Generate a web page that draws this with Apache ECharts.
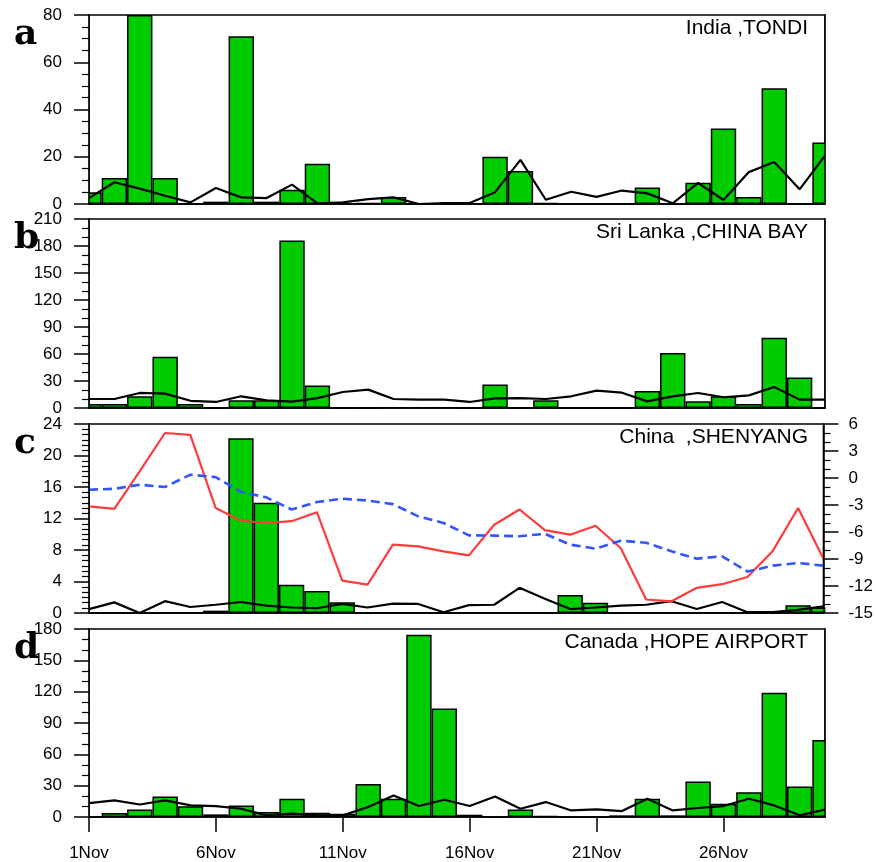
<!DOCTYPE html>
<html>
<head>
<meta charset="utf-8">
<script src="https://cdn.jsdelivr.net/npm/echarts@6/dist/echarts.min.js"></script>
<style>
  html, body { margin: 0; padding: 0; background: #fff; }
  #chart { width: 876px; height: 862px; }
</style>
</head>
<body>
<div id="chart"></div>
<script>
const DAYS = ["1Nov", "2Nov", "3Nov", "4Nov", "5Nov", "6Nov", "7Nov", "8Nov", "9Nov", "10Nov",
  "11Nov", "12Nov", "13Nov", "14Nov", "15Nov", "16Nov", "17Nov", "18Nov", "19Nov", "20Nov",
  "21Nov", "22Nov", "23Nov", "24Nov", "25Nov", "26Nov", "27Nov", "28Nov", "29Nov", "30Nov"];

const PANEL_TITLES = ["India ,TONDI", "Sri Lanka ,CHINA BAY", "China  ,SHENYANG", "Canada ,HOPE AIRPORT"];
const PANEL_LETTERS = ["a", "b", "c", "d"];

const aBars = [5, 11, 80, 11, 0, 1, 71, 1, 6, 17, 0.3, 0.5, 3, 0, 0.3, 0.3, 20, 14, 0.5, 0, 0, 0, 7, 0, 9, 32, 3, 49, 0, 26];
const aLine = [2.5, 9.2, 6.5, 3.5, 0.7, 6.8, 2.8, 2.5, 8.2, 0.3, 0.7, 2.1, 2.8, 0, 0.4, 0.4, 5, 18.7, 1.8, 5.2, 3, 5.7, 4.5, 0.3, 8.9, 1.7, 13.5, 17.8, 6.2, 20.5];

const bBars = [4.4, 4.4, 13, 57, 4.4, 0, 8.5, 8.5, 186, 25, 0, 0, 0.5, 0.5, 0.5, 0, 26, 0, 8.5, 0, 0, 0, 19, 61, 7.4, 13, 4.4, 78, 34, 0];
const bLine = [10, 10, 16.7, 16, 8, 6.7, 13, 8.5, 7, 11, 17.8, 20.4, 10, 9.3, 9.3, 6.7, 10.7, 11, 10, 13, 19.3, 17, 7.4, 13, 16.7, 11.9, 14, 23.3, 9.3, 9.3];

const cBars = [0, 0, 0, 0, 0, 0.3, 22.2, 14, 3.6, 2.8, 1.35, 0, 0, 0, 0, 0, 0, 0, 0, 2.3, 1.3, 0, 0, 0, 0, 0, 0, 0, 1.0, 0.7];
const cLine = [0.5, 1.35, 0, 1.5, 0.76, 1.05, 1.4, 0.93, 0.7, 0.6, 1.15, 0.7, 1.2, 1.15, 0.1, 1.0, 1.05, 3.2, 1.8, 0.5, 0.7, 0.93, 1.05, 1.5, 0.5, 1.4, 0.1, 0.1, 0.4, 0.85];
const cRed = [-3.15, -3.44, 0.74, 5.0, 4.8, -3.33, -4.74, -5.0, -4.8, -3.8, -11.4, -11.85, -7.4, -7.6, -8.15, -8.6, -5.2, -3.5, -5.8, -6.3, -5.3, -7.8, -13.5, -13.7, -12.2, -11.8, -11.0, -8.1, -3.33, -8.96];
const cBlue = [-1.3, -1.2, -0.74, -1.0, 0.37, 0.1, -1.55, -2.15, -3.5, -2.67, -2.3, -2.5, -2.9, -4.26, -5.0, -6.37, -6.4, -6.48, -6.2, -7.4, -7.85, -6.96, -7.2, -8.15, -8.96, -8.7, -10.4, -9.74, -9.44, -9.74];

const dBars = [0, 3.8, 7.3, 19.7, 10.2, 2.5, 11.1, 4.8, 17.5, 4.1, 3.2, 31.7, 17.5, 174.6, 103.8, 2.2, 0, 7.3, 1, 0, 0, 1.6, 17.5, 1.6, 34, 12.7, 23.8, 119, 29.2, 73.7];
const dLine = [13.3, 15.9, 12, 15.9, 11.1, 10.5, 7.9, 1.6, 3.2, 1.6, 1.6, 9.5, 20.6, 10.5, 16.5, 10.5, 19.7, 7.9, 14.3, 6.3, 7.3, 5.7, 17.5, 6.3, 8.6, 10.5, 17.5, 11.1, 1.6, 7];

// left axis ranges: [max, interval, minor splits]
const LEFT_AXES = [[80, 20, 4], [210, 30, 3], [24, 4, 6], [180, 30, 3]];
const RIGHT_AXIS_C = { min: -15, max: 6, interval: 3 };

const GRID_TOPS = [15, 219, 424, 629];
const GRID_HEIGHT = 189;
const GRID_LEFT = 89;
const GRID_RIGHT_X = 825;
const FONT = "Liberation Sans, Arial, Helvetica, sans-serif";
const BLACK_LINE = { color: "#000", width: 1.5 };

const chart = echarts.init(document.getElementById("chart"));

const grids = GRID_TOPS.map((top) => ({
  left: GRID_LEFT,
  right: 876 - GRID_RIGHT_X,
  top: top,
  height: GRID_HEIGHT,
  show: true,
  borderColor: "#000",
  borderWidth: 1.5,
}));

const xAxes = GRID_TOPS.map((top, i) => ({
  type: "category",
  gridIndex: i,
  data: DAYS,
  boundaryGap: false,
  z: 10,
  axisLine: { show: true, lineStyle: BLACK_LINE },
  axisTick: { show: i === 3, interval: 4, length: 15, lineStyle: BLACK_LINE },
  axisLabel: {
    show: i === 3,
    interval: 4,
    margin: 28,
    color: "#000",
    fontFamily: FONT,
    fontSize: 17,
  },
  splitLine: { show: false },
}));

const yAxes = LEFT_AXES.map(([max, interval, minor], i) => ({
  type: "value",
  gridIndex: i,
  min: 0,
  max: max,
  interval: interval,
  z: 10,
  axisLine: { show: true, lineStyle: BLACK_LINE },
  axisTick: { show: true, length: 15, lineStyle: BLACK_LINE },
  minorTick: { show: true, splitNumber: minor, length: 7, lineStyle: { color: "#000", width: 1.2 } },
  axisLabel: { color: "#000", fontFamily: FONT, fontSize: 17, margin: 27 },
  splitLine: { show: false },
}));

// index 4: right axis of panel c
yAxes.push({
  type: "value",
  gridIndex: 2,
  position: "right",
  min: RIGHT_AXIS_C.min,
  max: RIGHT_AXIS_C.max,
  interval: RIGHT_AXIS_C.interval,
  z: 10,
  axisLine: { show: true, lineStyle: BLACK_LINE },
  axisTick: { show: true, length: 15, lineStyle: BLACK_LINE },
  minorTick: { show: true, splitNumber: 3, length: 7, lineStyle: { color: "#000", width: 1.2 } },
  axisLabel: { color: "#000", fontFamily: FONT, fontSize: 17, margin: 25 },
  splitLine: { show: false },
});

// plain right frame lines for panels a, b, d
[0, 1, 3].forEach((i) => {
  yAxes.push({
    type: "value",
    gridIndex: i,
    position: "right",
    z: 10,
    axisLine: { show: true, lineStyle: BLACK_LINE },
    axisTick: { show: false },
    axisLabel: { show: false },
    splitLine: { show: false },
  });
});

function barSeries(data, i) {
  return {
    type: "bar",
    xAxisIndex: i,
    yAxisIndex: i,
    data: data,
    barWidth: "100%",
    itemStyle: { color: "#00cc00", borderColor: "#000", borderWidth: 1.5 },
    z: 2,
  };
}

function lineSeries(data, xi, yi, color, width, type) {
  return {
    type: "line",
    xAxisIndex: xi,
    yAxisIndex: yi,
    data: data,
    symbol: "none",
    lineStyle: { color: color, width: width, type: type || "solid" },
    z: 3,
  };
}

const series = [
  barSeries(aBars, 0),
  lineSeries(aLine, 0, 0, "#000", 2.2),
  barSeries(bBars, 1),
  lineSeries(bLine, 1, 1, "#000", 2.2),
  barSeries(cBars, 2),
  lineSeries(cLine, 2, 2, "#000", 2.2),
  lineSeries(cRed, 2, 4, "#ff3b3b", 2.2),
  lineSeries(cBlue, 2, 4, "#3355ff", 2.6, [9, 5]),
  barSeries(dBars, 3),
  lineSeries(dLine, 3, 3, "#000", 2.2),
];

const titles = [];
GRID_TOPS.forEach((top, i) => {
  titles.push({
    text: PANEL_TITLES[i],
    right: 68,
    top: top + 3,
    padding: 0,
    textStyle: { color: "#000", fontFamily: FONT, fontSize: 21, fontWeight: "normal" },
  });
  titles.push({
    text: PANEL_LETTERS[i],
    left: 14,
    top: top + 2,
    padding: 0,
    textStyle: { color: "#000", fontFamily: "DejaVu Serif, serif", fontSize: 36, fontWeight: "bold" },
  });
});

// white masks hiding the halves of the first/last bars that fall outside the frame
const masks = [];
GRID_TOPS.forEach((top) => {
  masks.push({
    type: "rect",
    z: 5,
    shape: { x: 70, y: top, width: GRID_LEFT - 70 - 0.5, height: GRID_HEIGHT + 2 },
    style: { fill: "#fff" },
  });
  masks.push({
    type: "rect",
    z: 5,
    shape: { x: GRID_RIGHT_X + 0.5, y: top, width: 20, height: GRID_HEIGHT + 2 },
    style: { fill: "#fff" },
  });
});

chart.setOption({
  animation: false,
  backgroundColor: "#fff",
  title: titles,
  grid: grids,
  xAxis: xAxes,
  yAxis: yAxes,
  series: series,
  graphic: masks,
});
</script>
</body>
</html>
